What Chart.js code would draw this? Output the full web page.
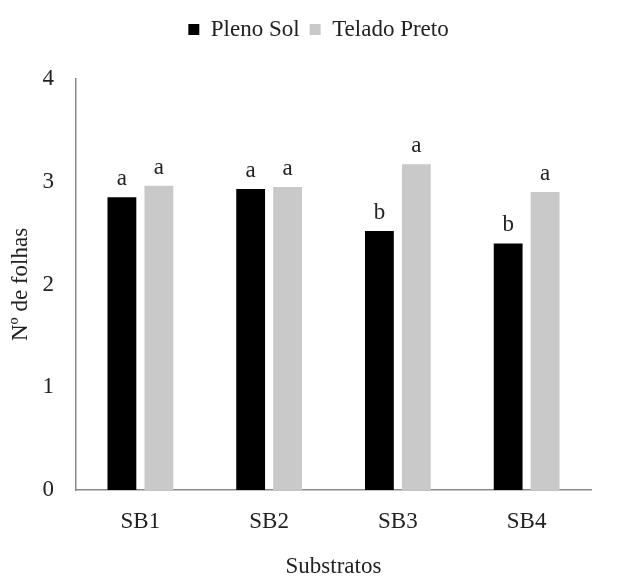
<!DOCTYPE html>
<html>
<head>
<meta charset="utf-8">
<script src="https://cdn.jsdelivr.net/npm/chart.js@4/dist/chart.umd.min.js"></script>
<style>
  html, body { margin: 0; padding: 0; background: #fff; }
  #wrap { width: 622px; height: 578px; }
</style>
</head>
<body>
<div id="wrap"><canvas id="c" width="622" height="578"></canvas></div>
<script>
// Number of leaves per substrate under two shading conditions
const substratos = ['SB1', 'SB2', 'SB3', 'SB4'];
const plenoSol = [2.85, 2.93, 2.52, 2.40];
const teladoPreto = [2.96, 2.95, 3.17, 2.90];
const letrasPlenoSol = ['a', 'a', 'b', 'b'];
const letrasTeladoPreto = ['a', 'a', 'a', 'a'];
const yTicks = [0, 1, 2, 3, 4];

const serif = "'Liberation Serif', 'Times New Roman', serif";
const textColor = '#222';
const axisColor = '#8a8a8a';
const fontSize = 23;

// Significance letters above every bar
const letterPlugin = {
  id: 'letters',
  afterDatasetsDraw(chart) {
    const ctx = chart.ctx;
    ctx.save();
    ctx.font = fontSize + "px " + serif;
    ctx.fillStyle = textColor;
    ctx.textAlign = 'center';
    ctx.textBaseline = 'alphabetic';
    chart.data.datasets.forEach((ds, i) => {
      const meta = chart.getDatasetMeta(i);
      meta.data.forEach((bar, j) => {
        ctx.fillText(ds.letters[j], bar.x, bar.y - 12);
      });
    });
    ctx.restore();
  }
};

// Space the legend away from the plot and centre it over the plot area
const legendPlacement = {
  id: 'legendPlacement',
  beforeLayout(chart) {
    const lg = chart.legend;
    if (lg && !lg._gapPatched) {
      const fit = lg.fit.bind(lg);
      lg.fit = function () { fit(); this.height += 28; };
      lg._gapPatched = true;
    }
  },
  afterLayout(chart) {
    const lg = chart.legend;
    if (lg) { lg.left += 23; lg.right += 23; }
  }
};

new Chart(document.getElementById('c'), {
  type: 'bar',
  data: {
    labels: substratos,
    datasets: [
      { label: 'Pleno Sol', data: plenoSol, letters: letrasPlenoSol,
        backgroundColor: '#000000', borderWidth: 0 },
      { label: 'Telado Preto', data: teladoPreto, letters: letrasTeladoPreto,
        backgroundColor: '#c9c9c9', borderWidth: 0 }
    ]
  },
  options: {
    responsive: false,
    animation: false,
    devicePixelRatio: 1,
    layout: { padding: { top: 8, right: 31, left: 0, bottom: 0 } },
    datasets: { bar: { categoryPercentage: 0.574, barPercentage: 0.78 } },
    plugins: {
      legend: {
        position: 'top',
        labels: {
          boxWidth: 11, boxHeight: 11, padding: 10,
          color: textColor,
          font: { family: serif, size: fontSize }
        }
      },
      tooltip: { enabled: false }
    },
    scales: {
      x: {
        grid: { display: false, drawTicks: false },
        border: { display: true, color: axisColor, width: 1.5 },
        ticks: { color: textColor, font: { family: serif, size: fontSize }, padding: 18 },
        title: { display: true, text: 'Substratos', color: textColor,
                 font: { family: serif, size: fontSize }, padding: { top: 16, bottom: -3 } },
        afterFit(s) { s.height = 88; }
      },
      y: {
        min: 0, max: 4,
        afterBuildTicks(s) { s.ticks = yTicks.map(v => ({ value: v })); },
        grid: { display: false, drawTicks: false },
        border: { display: true, color: axisColor, width: 1.5 },
        ticks: { color: textColor, font: { family: serif, size: fontSize }, padding: 22 },
        title: { display: true, text: 'Nº de folhas', color: textColor,
                 font: { family: serif, size: fontSize }, padding: { top: 7, bottom: 0 } },
        afterFit(s) { s.width = 76; }
      }
    }
  },
  plugins: [letterPlugin, legendPlacement]
});
</script>
</body>
</html>
